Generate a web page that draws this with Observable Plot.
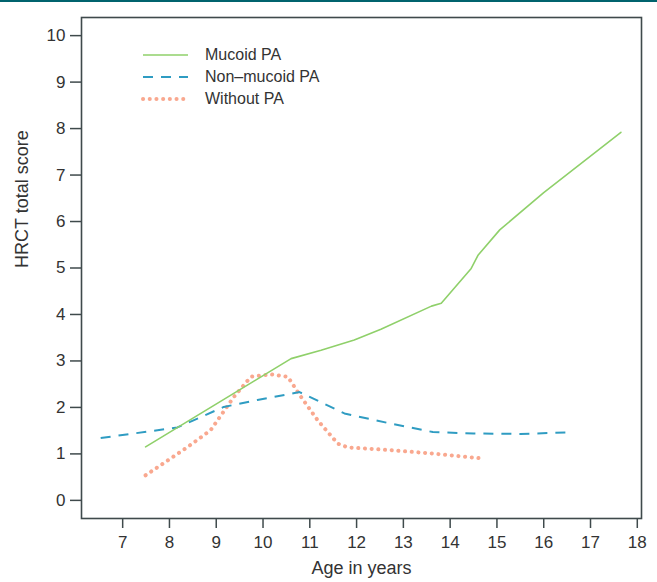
<!DOCTYPE html>
<html>
<head>
<meta charset="utf-8">
<script src="https://cdn.jsdelivr.net/npm/d3@7"></script>
<script src="https://cdn.jsdelivr.net/npm/@observablehq/plot@0.6"></script>
<style>
  html, body { margin: 0; padding: 0; background: #fff; }
  #wrap { position: relative; width: 657px; height: 582px; overflow: hidden; }
  #topline { position: absolute; left: 0; top: 0; width: 657px; height: 2px; background: #00636d; }
  .lg { position: absolute; font-family: "Liberation Sans", Arial, sans-serif; font-size: 16px; color: #333; line-height: 16px; }
</style>
</head>
<body>
<div id="wrap"><div id="topline"></div></div>
<script>
// ---- data ----
const mucoidAge   = [7.49, 10.60, 11.24, 11.95, 12.52, 13.60, 13.81, 14.45, 14.60, 15.06, 16.00, 17.65];
const mucoidScore = [1.15, 3.05, 3.23, 3.45, 3.68, 4.18, 4.24, 4.99, 5.28, 5.82, 6.62, 7.92];

const nonMucoidAge   = [6.53, 8.17, 9.16, 9.88, 10.78, 11.74, 12.74, 13.63, 14.50, 15.50, 16.49];
const nonMucoidScore = [1.34, 1.57, 2.01, 2.16, 2.33, 1.87, 1.65, 1.47, 1.44, 1.43, 1.46];

const withoutAge   = [7.49, 8.39, 8.88, 9.38, 9.74, 10.17, 10.53, 10.81, 11.17, 11.60, 11.81, 12.74, 13.60, 14.70];
const withoutScore = [0.54, 1.15, 1.51, 2.23, 2.66, 2.71, 2.66, 2.23, 1.72, 1.22, 1.14, 1.08, 1.01, 0.90];

const xTicks = [7, 8, 9, 10, 11, 12, 13, 14, 15, 16, 17, 18];
const yTicks = [0, 1, 2, 3, 4, 5, 6, 7, 8, 9, 10];

const seriesNames = ["Mucoid PA", "Non\u2013mucoid PA", "Without PA"];
const seriesColors = ["#8fd06a", "#2f9cc2", "#f9a88f"];

const toRows = (xs, ys) => xs.map((x, i) => ({x, y: ys[i]}));
const mucoid = toRows(mucoidAge, mucoidScore);
const nonMucoid = toRows(nonMucoidAge, nonMucoidScore);
const without = toRows(withoutAge, withoutScore);

const axisColor = "#3f4a4c";
const font = "Liberation Sans, Arial, sans-serif";

const chart = Plot.plot({
  width: 657,
  height: 582,
  marginLeft: 81,
  marginRight: 16,
  marginTop: 17,
  marginBottom: 64,
  x: {domain: [6.12, 18.09]},
  y: {domain: [-0.39, 10.39]},
  style: {fontFamily: font, fontSize: "17px", color: "#333", background: "transparent"},
  marks: [
    Plot.axisX({ticks: xTicks, tickSize: 10, tickPadding: 7, label: null, stroke: axisColor, strokeWidth: 1.5}),
    Plot.axisY({ticks: yTicks, tickSize: 11, tickPadding: 5, label: null, stroke: axisColor, strokeWidth: 1.5}),
    Plot.line(without, {x: "x", y: "y", stroke: seriesColors[2], strokeWidth: 4, strokeLinecap: "round", strokeDasharray: "0.1 6.6"}),
    Plot.line(nonMucoid, {x: "x", y: "y", stroke: seriesColors[1], strokeWidth: 2, strokeLinecap: "butt", strokeDasharray: "10 8"}),
    Plot.line(mucoid, {x: "x", y: "y", stroke: seriesColors[0], strokeWidth: 1.6}),
    Plot.frame({stroke: axisColor, strokeWidth: 1.6}),
    Plot.text(["Age in years"], {frameAnchor: "bottom", dy: 55, fontSize: 18, fill: "#333"}),
    Plot.text(["HRCT total score"], {frameAnchor: "left", dx: -59, rotate: -90, fontSize: 18, fill: "#333"})
  ]
});
// enforce tick label size on the tick-label groups and their texts
chart.querySelectorAll("g").forEach(g => {
  const a = g.getAttribute("aria-label") || "";
  if (a.includes("tick label")) {
    g.setAttribute("font-size", "17");
    g.style.fontSize = "17px";
    g.querySelectorAll("text").forEach(t => { t.setAttribute("font-size", "17"); t.style.fontSize = "17px"; });
  }
});
chart.style.position = "absolute";
chart.style.left = "0px";
chart.style.top = "0px";
const wrap = document.getElementById("wrap");
wrap.insertBefore(chart, wrap.firstChild);

// legend
const legendRowsY = [55, 77, 99];
const dashes = [null, "10 8", "0.1 6.6"];
const widths = [1.6, 2, 4];
const caps = ["butt", "butt", "round"];
seriesNames.forEach((name, i) => {
  const ns = "http://www.w3.org/2000/svg";
  const svg = document.createElementNS(ns, "svg");
  svg.setAttribute("width", 50);
  svg.setAttribute("height", 10);
  svg.style.position = "absolute";
  svg.style.left = "140px";
  svg.style.top = (legendRowsY[i] - 5) + "px";
  const ln = document.createElementNS(ns, "line");
  ln.setAttribute("x1", 3); ln.setAttribute("x2", 48);
  ln.setAttribute("y1", 5); ln.setAttribute("y2", 5);
  ln.setAttribute("stroke", seriesColors[i]);
  ln.setAttribute("stroke-width", widths[i]);
  ln.setAttribute("stroke-linecap", caps[i]);
  if (dashes[i]) ln.setAttribute("stroke-dasharray", dashes[i]);
  svg.appendChild(ln);
  wrap.appendChild(svg);
  const t = document.createElement("div");
  t.className = "lg";
  t.textContent = name;
  t.style.left = "205px";
  t.style.top = (legendRowsY[i] - 8) + "px";
  wrap.appendChild(t);
});
</script>
</body>
</html>
